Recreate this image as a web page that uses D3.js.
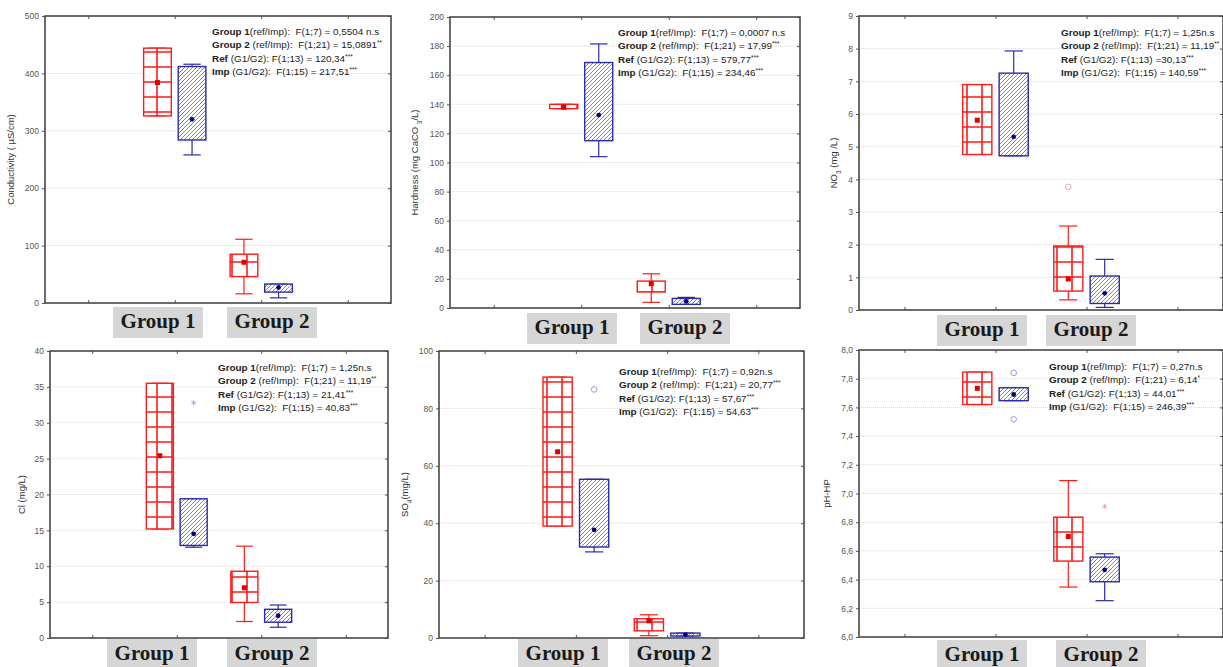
<!DOCTYPE html>
<html>
<head>
<meta charset="utf-8">
<script src="https://cdn.jsdelivr.net/npm/d3@7"></script>
<style>
body { margin: 0; background: #fff; }
text { white-space: pre; }
</style>
</head>
<body>
<div id="chart"></div>
<script>
// categories
var groups = ["Group 1", "Group 2"];

// box stats per group: [whisker low, box low, mean, box high, whisker high]
var condRef = [[326, 326, 384, 444, 444], [16, 46, 71, 85, 111]];
var condImp = [[258, 284, 320, 412, 416], [9, 19, 27, 33, 33]];
var hardRef = [[137, 137, 138, 140, 140], [3.9, 11, 16.7, 18.5, 23.5]];
var hardImp = [[104, 115, 132.6, 168.7, 181.5], [2.5, 2.5, 4.5, 6.6, 7.3]];
var no3Ref = [[4.76, 4.76, 5.81, 6.9, 6.9], [0.31, 0.58, 0.95, 1.96, 2.57]];
var no3Imp = [[4.72, 4.72, 5.3, 7.25, 7.93], [0.08, 0.2, 0.51, 1.04, 1.55]];
var clRef = [[15.2, 15.2, 25.4, 35.5, 35.5], [2.3, 4.95, 7.0, 9.3, 12.8]];
var clImp = [[12.65, 12.9, 14.5, 19.4, 19.4], [1.5, 2.2, 3.1, 4.0, 4.6]];
var so4Ref = [[39, 39, 64.9, 90.9, 90.9], [0.8, 2.5, 6.0, 6.7, 8.1]];
var so4Imp = [[30.0, 31.7, 37.7, 55.3, 55.3], [0.7, 0.7, 1.2, 1.7, 1.7]];
var phRef = [[7.62, 7.62, 7.733, 7.846, 7.846], [6.348, 6.529, 6.70, 6.835, 7.09]];
var phImp = [[7.647, 7.647, 7.69, 7.737, 7.737], [6.253, 6.385, 6.468, 6.557, 6.58]];

// outliers: [group index, series, value, symbol, colour]
var no3Out = [[1, "ref", 3.77, "circle", "#f2a0a0"]];
var clOut = [[0, "imp", 32.8, "star", "#a8a8e8"]];
var so4Out = [[0, "imp", 86.6, "circle", "#9999dd"]];
var phOut = [[0, "imp", 7.84, "circle", "#9999dd"], [0, "imp", 7.517, "circle", "#9999dd"],
             [1, "imp", 6.91, "star", "#f0a0a0"]];

// y tick values
var condTicks = d3.range(0, 501, 100);
var hardTicks = d3.range(0, 201, 20);
var no3Ticks = d3.range(0, 10, 1);
var clTicks = d3.range(0, 41, 5);
var so4Ticks = d3.range(0, 101, 20);
var phTicks = [6.0, 6.2, 6.4, 6.6, 6.8, 7.0, 7.2, 7.4, 7.6, 7.8, 8.0];

// annotation lines: [bold part, plain part, stars]
var condNotes = [["Group 1", "(ref/Imp):  F(1;7) = 0,5504 n.s", ""],
                 ["Group 2", " (ref/Imp):  F(1;21) = 15,0891", "**"],
                 ["Ref", " (G1/G2): F(1;13) = 120,34", "***"],
                 ["Imp", " (G1/G2):  F(1;15) = 217,51", "***"]];
var hardNotes = [["Group 1", "(ref/Imp):  F(1;7) = 0,0007 n.s", ""],
                 ["Group 2", " (ref/Imp):  F(1;21) = 17,99", "***"],
                 ["Ref", " (G1/G2): F(1;13) = 579,77", "***"],
                 ["Imp", " (G1/G2):  F(1;15) = 234,46", "***"]];
var no3Notes = [["Group 1", "(ref/Imp):  F(1;7) = 1,25n.s", ""],
                ["Group 2", " (ref/Imp):  F(1;21) = 11,19", "**"],
                ["Ref", " (G1/G2): F(1;13) =30,13", "***"],
                ["Imp", " (G1/G2):  F(1;15) = 140,59", "***"]];
var clNotes = [["Group 1", "(ref/Imp):  F(1;7) = 1,25n.s", ""],
               ["Group 2", " (ref/Imp):  F(1;21) = 11,19", "**"],
               ["Ref", " (G1/G2): F(1;13) = 21,41", "***"],
               ["Imp", " (G1/G2):  F(1;15) = 40,83", "***"]];
var so4Notes = [["Group 1", "(ref/Imp):  F(1;7) = 0,92n.s", ""],
                ["Group 2", " (ref/Imp):  F(1;21) = 20,77", "***"],
                ["Ref", " (G1/G2): F(1;13) = 57,67", "***"],
                ["Imp", " (G1/G2):  F(1;15) = 54,63", "***"]];
var phNotes = [["Group 1", "(ref/Imp):  F(1;7) = 0,27n.s", ""],
               ["Group 2", " (ref/Imp):  F(1;21) = 6,14", "*"],
               ["Ref", " (G1/G2): F(1;13) = 44,01", "***"],
               ["Imp", " (G1/G2):  F(1;15) = 246,39", "***"]];

var fmtInt = d3.format("d");
var fmtComma = function (d) { return d3.format(".1f")(d).replace(".", ","); };

//layout of the six panels
var panels = [
  {x0: 45, x1: 391, y0: 16, y1: 303, dom: [0, 500], ticks: condTicks, fmt: fmtInt,
   label: [["Conductivity ( µS/cm)", ""]], labelX: 14,
   ref: condRef, imp: condImp, out: [], notes: condNotes, noteX: 212, noteY: 35,
   tags: [158, 272], tagY: 307},
  {x0: 450, x1: 800, y0: 17, y1: 308, dom: [0, 200], ticks: hardTicks, fmt: fmtInt,
   label: [["Hardness (mg CaCO ", ""], ["3", "sub"], ["/L)", ""]], labelX: 418,
   ref: hardRef, imp: hardImp, out: [], notes: hardNotes, noteX: 618, noteY: 36,
   tags: [572, 685], tagY: 313},
  {x0: 859, x1: 1223, y0: 16, y1: 310, dom: [0, 9], ticks: no3Ticks, fmt: fmtInt,
   label: [["NO", ""], ["3", "sub"], [" (mg /L)", ""]], labelX: 837,
   ref: no3Ref, imp: no3Imp, out: no3Out, notes: no3Notes, noteX: 1061, noteY: 36,
   tags: [982, 1091], tagY: 315},
  {x0: 50, x1: 388, y0: 351, y1: 638, dom: [0, 40], ticks: clTicks, fmt: fmtInt,
   label: [["Cl (mg/L)", ""]], labelX: 25,
   ref: clRef, imp: clImp, out: clOut, notes: clNotes, noteX: 218, noteY: 371,
   tags: [152, 272], tagY: 639},
  {x0: 439, x1: 804, y0: 351, y1: 638, dom: [0, 100], ticks: so4Ticks, fmt: fmtInt,
   label: [["SO", ""], ["4", "sub"], ["(mg/L)", ""]], labelX: 408,
   ref: so4Ref, imp: so4Imp, out: so4Out, notes: so4Notes, noteX: 619, noteY: 375,
   tags: [563, 674], tagY: 639},
  {x0: 859, x1: 1223, y0: 350, y1: 637, dom: [6, 8], ticks: phTicks, fmt: fmtComma,
   label: [["pH-HP", ""]], labelX: 830,
   ref: phRef, imp: phImp, out: phOut, notes: phNotes, noteX: 1049, noteY: 370,
   tags: [982, 1101], tagY: 640}
];

var svg = d3.select("#chart").append("svg")
    .attr("width", 1223)
    .attr("height", 667);

//patterns
var defs = svg.append("defs");
var grid = defs.append("pattern")
    .attr("id", "redgrid")
    .attr("patternUnits", "userSpaceOnUse")
    .attr("width", 15)
    .attr("height", 15);
grid.append("rect").attr("width", 15).attr("height", 15).attr("fill", "#fff");
grid.append("path")
    .attr("d", "M7,0 V15 M0,7 H15")
    .attr("stroke", "#ff1a1a")
    .attr("stroke-width", 1.6);

var hatch = defs.append("pattern")
    .attr("id", "bluehatch")
    .attr("patternUnits", "userSpaceOnUse")
    .attr("width", 4)
    .attr("height", 4);
hatch.append("rect").attr("width", 4).attr("height", 4).attr("fill", "#fff");
hatch.append("path")
    .attr("d", "M-1,1 l2,-2 M0,4 l4,-4 M3,5 l2,-2")
    .attr("stroke", "#5050d8")
    .attr("stroke-width", 0.75);

var style = {
  ref: {fill: "url(#redgrid)", stroke: "#ff1a1a", mean: "#e00000", off: -0.2},
  imp: {fill: "url(#bluehatch)", stroke: "#2b2ba8", mean: "#000080", off: 0.2}
};

panels.forEach(function (p) {
  var x = d3.scaleLinear().domain([0, 4]).range([p.x0, p.x1]);
  var y = d3.scaleLinear().domain(p.dom).range([p.y1, p.y0]);
  var g = svg.append("g");

  // grid lines
  g.append("g").selectAll("line")
      .data(p.ticks.slice(1, -1))
      .join("line")
      .attr("x1", p.x0).attr("x2", p.x1)
      .attr("y1", function (d) { return y(d); })
      .attr("y2", function (d) { return y(d); })
      .attr("stroke", "#d8d8d8")
      .attr("stroke-dasharray", "1,1");

  // y axis
  var ya = g.append("g")
      .attr("transform", "translate(" + p.x0 + ",0)")
      .call(d3.axisLeft(y).tickValues(p.ticks).tickFormat(p.fmt).tickSize(3).tickPadding(3));
  ya.select(".domain").remove();
  ya.selectAll("line").attr("stroke", "#555");
  ya.selectAll("text").attr("font-family", "Liberation Sans, Arial").attr("font-size", 8.5).attr("fill", "#555");

  var yr = g.append("g")
      .attr("transform", "translate(" + p.x1 + ",0)")
      .call(d3.axisRight(y).tickValues(p.ticks).tickFormat("").tickSize(-3));
  yr.select(".domain").remove();
  yr.selectAll("line").attr("stroke", "#555");

  // x ticks top and bottom
  [p.y0, p.y1].forEach(function (yy, k) {
    var xa = g.append("g")
        .attr("transform", "translate(0," + yy + ")")
        .call((k ? d3.axisBottom(x) : d3.axisTop(x)).tickValues([0.5, 1.5, 2.5, 3.5]).tickFormat("").tickSize(-3));
    xa.select(".domain").remove();
    xa.selectAll("line").attr("stroke", "#555");
  });

  // boxes
  ["ref", "imp"].forEach(function (s) {
    var st = style[s];
    p[s].forEach(function (v, i) {
      var cx = x(1.5 + i + st.off);
      var bw = x(0.32) - x(0);
      var cw = x(0.2) - x(0);
      var b = g.append("g");
      b.append("line")
          .attr("x1", cx).attr("x2", cx)
          .attr("y1", y(v[4])).attr("y2", y(v[3]))
          .attr("stroke", st.stroke).attr("stroke-width", 1.2);
      b.append("line")
          .attr("x1", cx).attr("x2", cx)
          .attr("y1", y(v[1])).attr("y2", y(v[0]))
          .attr("stroke", st.stroke).attr("stroke-width", 1.2);
      [v[0], v[4]].forEach(function (w) {
        b.append("line")
            .attr("x1", cx - cw / 2).attr("x2", cx + cw / 2)
            .attr("y1", y(w)).attr("y2", y(w))
            .attr("stroke", st.stroke).attr("stroke-width", 1.2);
      });
      b.append("rect")
          .attr("x", cx - bw / 2)
          .attr("y", y(v[3]))
          .attr("width", bw)
          .attr("height", Math.max(y(v[1]) - y(v[3]), 1))
          .attr("fill", st.fill)
          .attr("stroke", st.stroke)
          .attr("stroke-width", 1.4);
      if (s == "ref") {
        b.append("rect")
            .attr("x", cx - 2.5).attr("y", y(v[2]) - 2.5)
            .attr("width", 5).attr("height", 5)
            .attr("fill", st.mean);
      } else {
        b.append("circle")
            .attr("cx", cx).attr("cy", y(v[2]))
            .attr("r", 2.4)
            .attr("fill", st.mean);
      }
    });
  });

  // outliers
  p.out.forEach(function (o) {
    var cx = x(1.5 + o[0] + style[o[1]].off);
    if (o[3] == "circle") {
      g.append("circle")
          .attr("cx", cx).attr("cy", y(o[2]))
          .attr("r", 2.8)
          .attr("fill", "none")
          .attr("stroke", o[4]);
    } else {
      g.append("path")
          .attr("transform", "translate(" + cx + "," + y(o[2]) + ")")
          .attr("d", d3.symbol(d3.symbolAsterisk, 18)())
          .attr("fill", "none")
          .attr("stroke", o[4]);
    }
  });

  // frame
  g.append("rect")
      .attr("x", p.x0).attr("y", p.y0)
      .attr("width", p.x1 - p.x0).attr("height", p.y1 - p.y0)
      .attr("fill", "none")
      .attr("stroke", "#484848")
      .attr("stroke-width", 1.6);

  // y label
  var yl = g.append("text")
      .attr("transform", "translate(" + p.labelX + "," + ((p.y0 + p.y1) / 2) + ") rotate(-90)")
      .attr("text-anchor", "middle")
      .attr("font-family", "Liberation Sans, Arial")
      .attr("font-size", 9.5)
      .attr("fill", "#333");
  p.label.forEach(function (part) {
    var t = yl.append("tspan").text(part[0]);
    if (part[1] == "sub") {
      t.attr("font-size", 6.5).attr("baseline-shift", "sub");
    }
  });

  // annotations
  p.notes.forEach(function (n, k) {
    var t = g.append("text")
        .attr("x", p.noteX)
        .attr("y", p.noteY + k * 13.3)
        .attr("font-family", "Liberation Sans, Arial")
        .attr("font-size", 9.9)
        .attr("fill", "#222");
    t.append("tspan").attr("font-weight", "bold").text(n[0]);
    t.append("tspan").text(n[1]);
    if (n[2]) {
      t.append("tspan").attr("font-size", 6.5).attr("baseline-shift", "super").text(n[2]);
    }
  });

  // group tags under the axis
  groups.forEach(function (name, i) {
    g.append("rect")
        .attr("x", p.tags[i] - 45)
        .attr("y", p.tagY)
        .attr("width", 90)
        .attr("height", 31)
        .attr("fill", "#d6d6d6");
    g.append("text")
        .attr("x", p.tags[i])
        .attr("y", p.tagY + 21)
        .attr("text-anchor", "middle")
        .attr("font-family", "Liberation Serif, Times New Roman")
        .attr("font-weight", "bold")
        .attr("font-size", 21)
        .attr("fill", "#1a1a1a")
        .text(name);
  });
});
</script>
</body>
</html>
